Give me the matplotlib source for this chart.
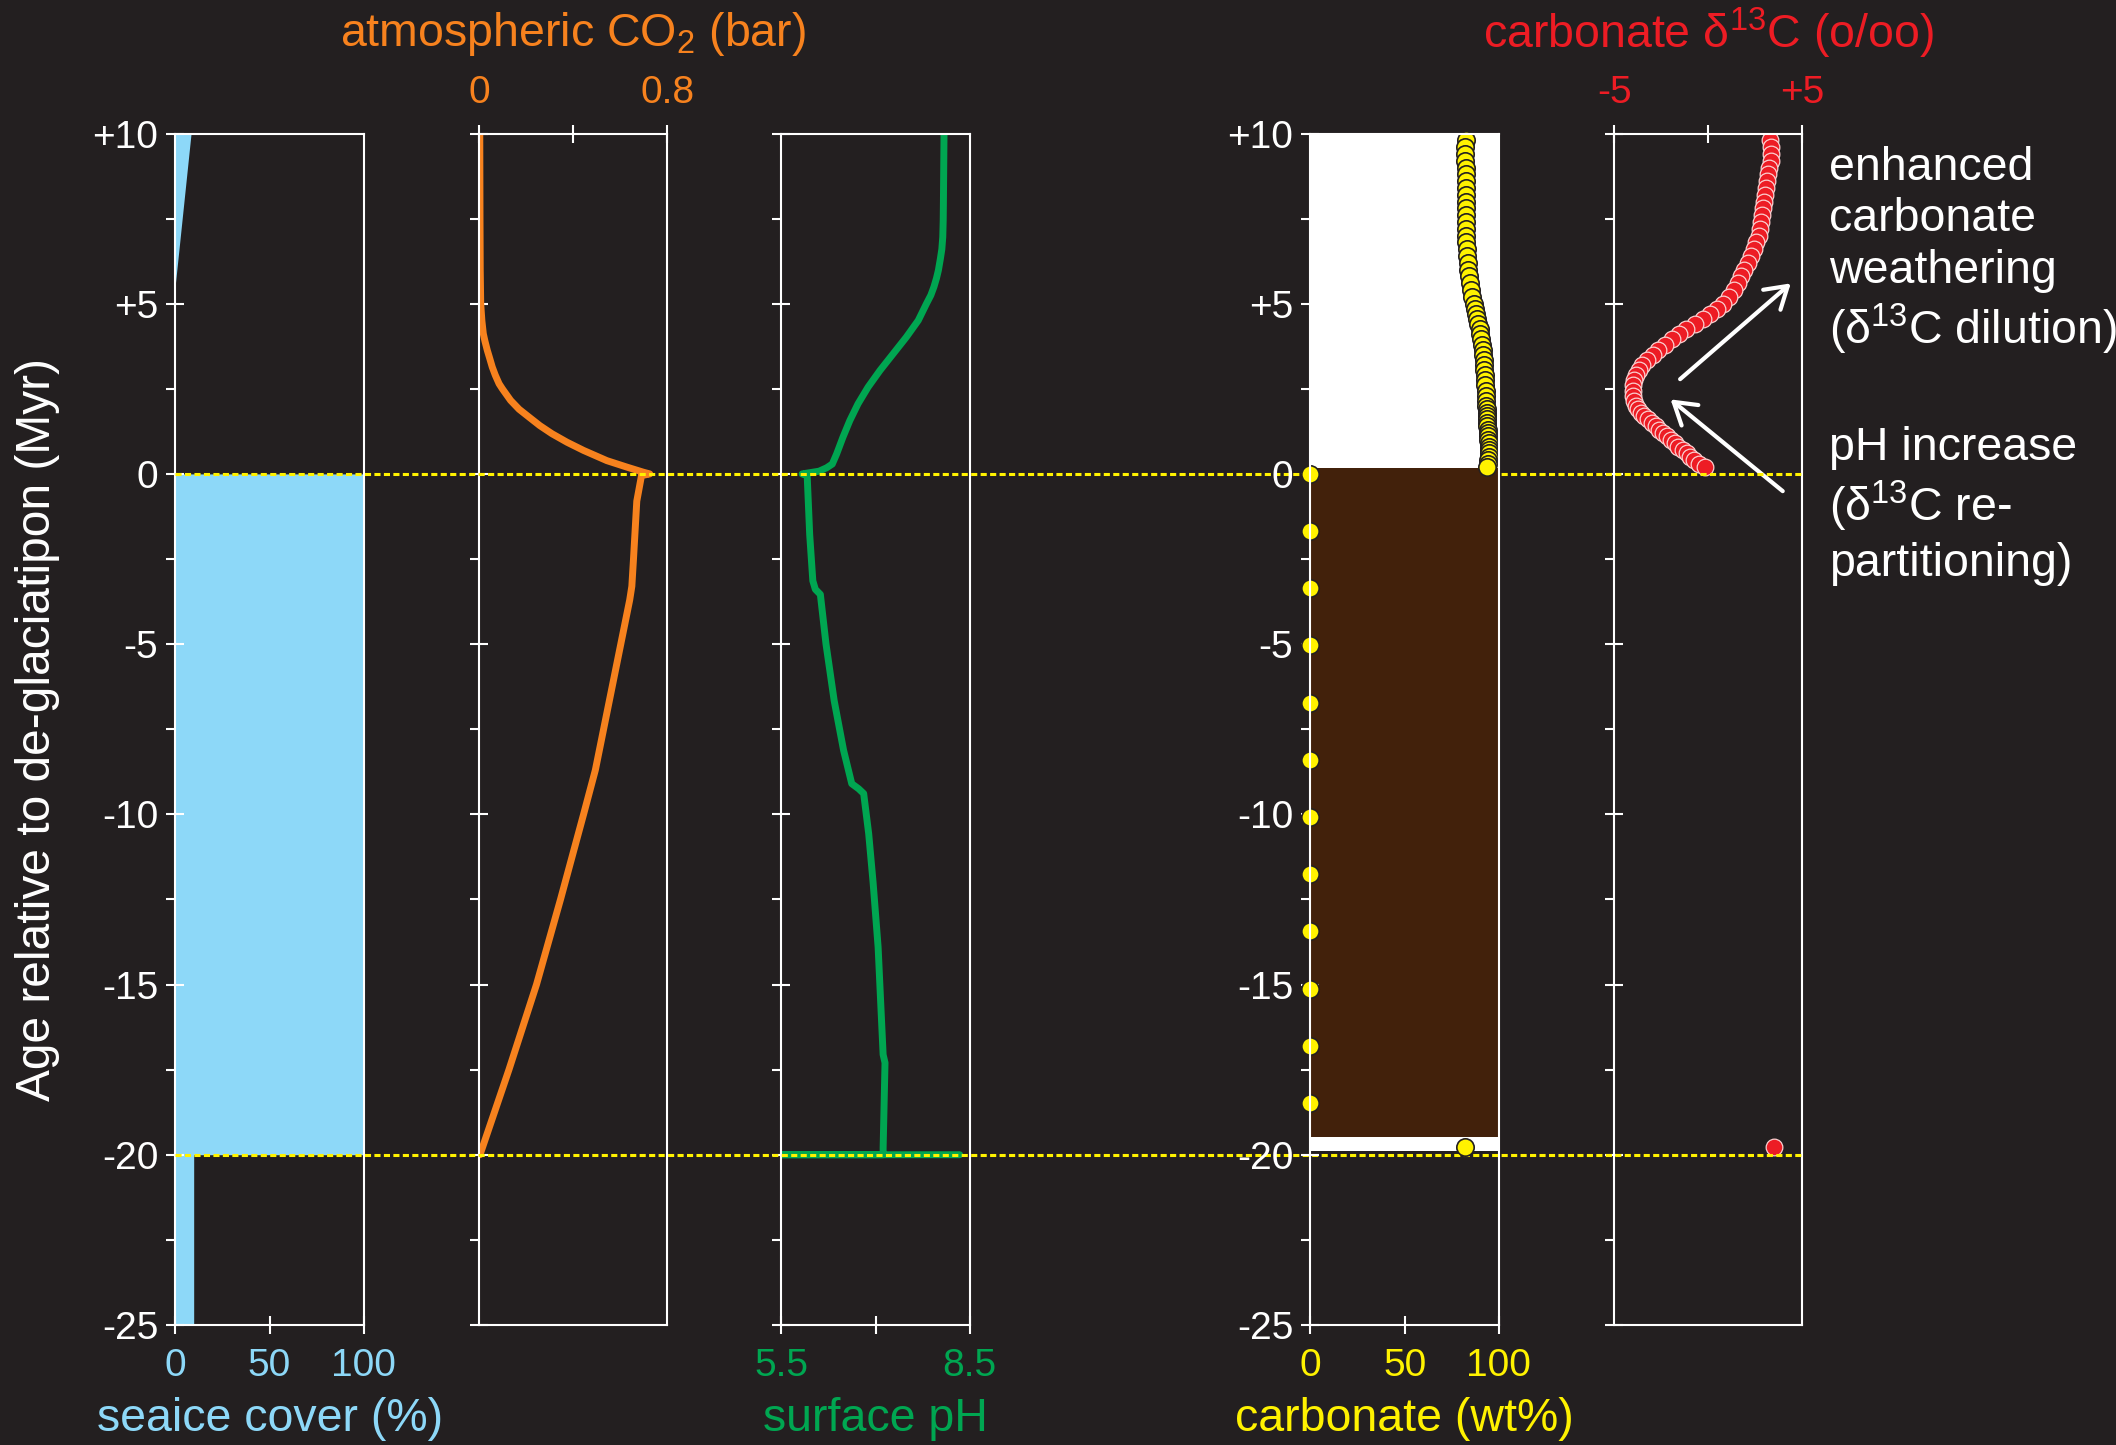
import matplotlib.pyplot as plt
import matplotlib.transforms as mtransforms
from matplotlib.lines import Line2D
from matplotlib.ticker import MultipleLocator

plt.rcParams['font.family'] = ['Liberation Sans', 'DejaVu Sans']
plt.rcParams['mathtext.fontset'] = 'custom'
plt.rcParams['mathtext.rm'] = 'Liberation Sans'
plt.rcParams['mathtext.it'] = 'Liberation Sans:italic'

bg = '#231f20'
blue = '#8dd8f8'
orange = '#f7821e'
green = '#00a651'
yellow = '#fff200'
red = '#ed1c24'
brown = '#42210b'

# sea ice cover (%)
ice_age = [-25, -20, -20, 0, 0, 5.6, 10]
ice_cover = [9.7, 9.7, 100, 100, 0, 0, 8.3]

# atmospheric CO2 (bar)
co2_age = [-20, -17.5, -15, -12.5, -10, -8.7, -7.5, -5, -3.7, -3.3, -2.5, -0.8,
           -0.05, 0.0, 0.05, 0.2, 0.39, 0.69, 0.93, 1.18, 1.42, 1.67, 1.9,
           2.16, 2.5, 2.65, 2.9, 3.14, 3.4, 3.63, 3.9, 4.12, 4.5, 5.0, 6.0,
           7.5, 10]
co2_bar = [0.004, 0.127, 0.244, 0.346, 0.444, 0.494, 0.529, 0.602, 0.64, 0.649,
           0.656, 0.67, 0.69, 0.725, 0.698, 0.628, 0.543, 0.444, 0.374, 0.31,
           0.258, 0.212, 0.17, 0.134, 0.099, 0.085, 0.069, 0.056, 0.045, 0.035,
           0.025, 0.018, 0.012, 0.007, 0.005, 0.004, 0.003]

# surface pH
ph_age = [-20, -20, -20, -19.8, -17.3, -17.06, -15.88, -13.9, -12.0, -10.57,
          -9.39, -9.25, -9.1, -8.12, -6.66, -5.0, -3.54, -3.39, -3.14, -1.78,
          -0.05, 0.0, 0.08, 0.18, 0.29, 0.59, 1.08, 1.57, 2.06, 2.55, 3.04,
          3.53, 4.02, 4.51, 5.0, 5.25, 5.5, 5.75, 5.98, 6.3, 6.6, 6.96, 7.45,
          7.94, 10]
ph_val = [8.34, 5.5, 7.12, 7.12, 7.15, 7.12, 7.09, 7.04, 6.96, 6.89,
          6.81, 6.73, 6.62, 6.49, 6.34, 6.21, 6.12, 6.04, 6.0, 5.95,
          5.91, 5.83, 6.1, 6.22, 6.31, 6.38, 6.48, 6.59, 6.72, 6.88, 7.07,
          7.28, 7.49, 7.68, 7.81, 7.88, 7.93, 7.97, 8.0, 8.03, 8.055, 8.07,
          8.077, 8.08, 8.09]

# sediment core background
core_bounds = [-19.9, -19.47, 0.18, 10]
core_colors = ['white', brown, 'white']

# cap carbonate samples
sed_age = [9.8, 9.6, 9.4, 9.2, 9.0, 8.8, 8.6, 8.4, 8.2, 8.0, 7.8, 7.6, 7.4, 7.2,
           7.0, 6.8, 6.6, 6.4, 6.2, 6.0, 5.8, 5.6, 5.4, 5.2, 5.0, 4.85, 4.7,
           4.55, 4.4, 4.25, 4.1, 3.95, 3.8, 3.65, 3.5, 3.35, 3.2, 3.05, 2.9,
           2.75, 2.6, 2.45, 2.3, 2.15, 2.0, 1.9, 1.8, 1.7, 1.6, 1.5, 1.4, 1.3,
           1.2, 1.1, 1.0, 0.9, 0.8, 0.7, 0.6, 0.5, 0.4, 0.3, 0.2]
sed_carb = [82.4, 82.3, 82.3, 82.3, 82.4, 82.4, 82.4, 82.4, 82.4, 82.5, 82.5,
            82.5, 82.6, 82.6, 82.7, 82.8, 83.0, 83.2, 83.5, 83.8, 84.2, 84.7,
            85.3, 86.0, 86.8, 87.4, 88.0, 88.6, 89.2, 89.8, 90.3, 90.7, 91.1,
            91.4, 91.7, 91.9, 92.1, 92.3, 92.5, 92.6, 92.8, 93.0, 93.1, 93.3,
            93.4, 93.5, 93.6, 93.7, 93.8, 93.9, 94.0, 94.1, 94.2, 94.3, 94.5,
            94.6, 94.7, 94.8, 94.8, 94.7, 94.5, 94.2, 93.8]
sed_d13c = [3.26, 3.32, 3.35, 3.32, 3.25, 3.18, 3.13, 3.08, 3.03, 2.98, 2.93,
            2.87, 2.81, 2.74, 2.67, 2.56, 2.42, 2.28, 2.10, 1.92, 1.75, 1.58,
            1.38, 1.10, 0.80, 0.45, 0.10, -0.30, -0.70, -1.17, -1.55, -1.95,
            -2.30, -2.65, -2.95, -3.25, -3.50, -3.70, -3.83, -3.92, -3.97,
            -3.99, -3.98, -3.92, -3.82, -3.72, -3.58, -3.42, -3.22, -3.00,
            -2.80, -2.60, -2.41, -2.20, -2.00, -1.78, -1.58, -1.35, -1.15,
            -0.95, -0.73, -0.48, -0.17]

# glacial deposit samples
glac_age = [0, -1.68, -3.36, -5.04, -6.72, -8.4, -10.08, -11.76, -13.44,
            -15.12, -16.8, -18.48]
glac_carb = [0, 0, 0, 0, 0, 0, 0, 0, 0, 0, 0, 0]

# pre-glacial sample
base_age = [-19.78]
base_carb = [82.3]
base_d13c = [3.47]

ytick_vals = [-25, -20, -15, -10, -5, 0, 5, 10]
ytick_text = ['-25', '-20', '-15', '-10', '-5', '0', '+5', '+10']

fig = plt.figure(figsize=(21.16, 14.45), dpi=100, facecolor=bg)

lefts = [0.0829, 0.2264, 0.3693, 0.6193, 0.7628]
w, b, h = 0.089, 0.0831, 0.8245
axs = [fig.add_axes([l, b, w, h]) for l in lefts]

TS = 28
LS = 33.5
for i, ax in enumerate(axs):
    ax.set_facecolor('none')
    ax.set_ylim(-25, 10)
    ax.set_yticks(ytick_vals)
    ax.yaxis.set_minor_locator(MultipleLocator(2.5))
    for s in ax.spines.values():
        s.set_color('white')
        s.set_linewidth(1.5)
    ax.tick_params(axis='y', which='major', direction='inout', length=12.6,
                   width=1.5, color='white', labelcolor='white', labelsize=TS, pad=6)
    ax.tick_params(axis='y', which='minor', direction='out', length=6.3,
                   width=1.5, color='white')
    if i in (0, 3):
        ax.set_yticklabels(ytick_text)
    else:
        ax.tick_params(axis='y', labelleft=False)

def xstyle(ax, lim, ticks, labels, col, top=False):
    ax.set_xlim(*lim)
    if top:
        ax.xaxis.tick_top()
    ax.set_xticks(ticks)
    ax.set_xticklabels(labels)
    ax.tick_params(axis='x', direction='inout', length=12.6, width=1.5,
                   color='white', labelcolor=col, labelsize=TS, pad=10)

ax1, ax2, ax3, ax4, ax5 = axs
xstyle(ax1, (0, 100), [0, 50, 100], ['0', '50', '100'], blue)
xstyle(ax2, (0, 0.8), [0, 0.4, 0.8], ['0', '', '0.8'], orange, top=True)
xstyle(ax3, (5.5, 8.5), [5.5, 7, 8.5], ['5.5', '', '8.5'], green)
xstyle(ax4, (0, 100), [0, 50, 100], ['0', '50', '100'], yellow)
xstyle(ax5, (-5, 5), [-5, 0, 5], ['-5', '', '+5'], red, top=True)

# sea ice
ax1.fill_betweenx(ice_age, 0, ice_cover, color=blue, lw=0)

# CO2 and pH
ax2.plot(co2_bar, co2_age, color=orange, lw=5, solid_capstyle='round',
         solid_joinstyle='round')
ax3.plot(ph_val, ph_age, color=green, lw=5, solid_capstyle='round',
         solid_joinstyle='round')

# carbonate core
ax4.set_zorder(1)
for k in range(len(core_colors)):
    ax4.axhspan(core_bounds[k], core_bounds[k + 1], color=core_colors[k], lw=0, zorder=0)
mk = dict(ls='none', marker='o', color=yellow, mec=bg, mew=1.2, ms=12.5, clip_on=False)
ax4.plot(sed_carb, sed_age, **mk)
ax4.plot(glac_carb, glac_age, **mk)
ax4.plot(base_carb, base_age, **mk)

# d13C
ax5.plot(sed_d13c, sed_age, 'o', color=red, mec='#fbd0d0', mew=0.9, ms=12)
ax5.plot(base_d13c, base_age, 'o', color=red, mec='#fbd0d0', mew=0.9, ms=12)

# glaciation boundaries
tr = mtransforms.blended_transform_factory(fig.transFigure, ax1.transData)
for yv in (0, -20):
    fig.add_artist(Line2D([lefts[0], lefts[-1] + w], [yv, yv], transform=tr,
                          color=yellow, lw=2.2, dashes=(2, 1.1), zorder=0.5))

# labels
fig.text(0.0179, 0.495, 'Age relative to de-glaciatipon (Myr)', rotation=90,
         color='white', fontsize=34.5, ha='center', va='center')
fig.text(lefts[0] + w / 2, 0.0177, 'seaice cover (%)', color=blue, fontsize=LS,
         ha='center', va='center')
fig.text(lefts[1] + w / 2, 0.9767, r'atmospheric CO$\mathregular{_2}$ (bar)', color=orange,
         fontsize=LS, ha='center', va='center')
fig.text(lefts[2] + w / 2, 0.0177, 'surface pH', color=green, fontsize=LS,
         ha='center', va='center')
fig.text(lefts[3] + w / 2, 0.0177, 'carbonate (wt%)', color=yellow, fontsize=LS,
         ha='center', va='center')
fig.text(lefts[4] + w / 2, 0.9767, r'carbonate δ$\mathregular{^{13}}$C (o/oo)', color=red,
         fontsize=LS, ha='center', va='center')

fig.text(0.8642, 0.826, 'enhanced\ncarbonate\nweathering\n' + r'(δ$\mathregular{^{13}}$C dilution)',
         color='white', fontsize=LS, ha='left', va='center', linespacing=1.22)
fig.text(0.8642, 0.650, 'pH increase\n' + r'(δ$\mathregular{^{13}}$C re-' + '\npartitioning)',
         color='white', fontsize=LS, ha='left', va='center', linespacing=1.22)

arrow = dict(arrowstyle='->, head_length=0.4, head_width=0.25', color='white',
             lw=3, mutation_scale=38, shrinkA=0, shrinkB=0)
ax5.annotate('', xy=(0.8463, 0.8039), xycoords='figure fraction',
             xytext=(0.7940, 0.7376), textcoords='figure fraction',
             arrowprops=arrow, annotation_clip=False)
ax5.annotate('', xy=(0.7895, 0.7236), xycoords='figure fraction',
             xytext=(0.8425, 0.6601), textcoords='figure fraction',
             arrowprops=arrow, annotation_clip=False)

fig.savefig('out.png', facecolor=bg)
